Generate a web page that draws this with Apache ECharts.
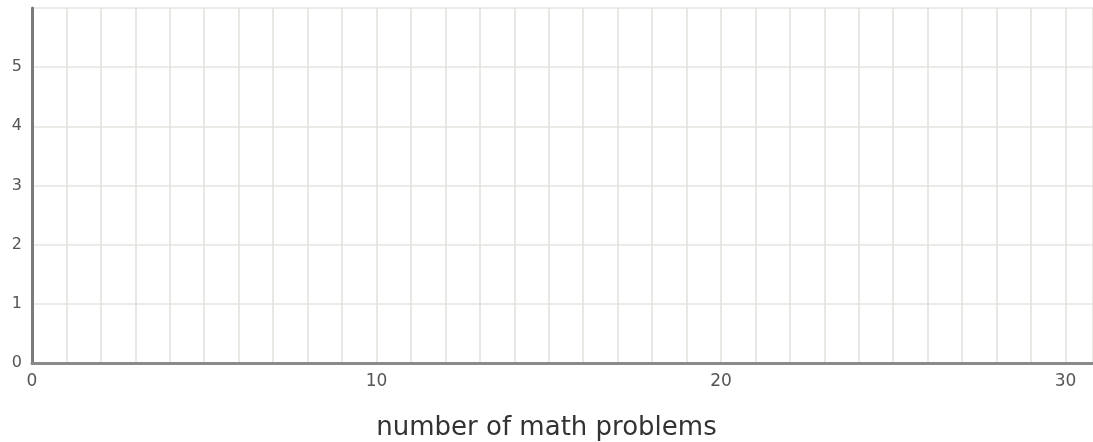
<!DOCTYPE html>
<html>
<head>
    <meta charset="UTF-8">
    <title>number of math problems</title>
    <script src="https://cdn.jsdelivr.net/npm/echarts@6/dist/echarts.min.js"></script>
</head>
<body style="margin:0;background:#fff;">
    <div id="main" style="width:1093px;height:442px;"></div>
    <script>
        // tick labels
        var xLabels = [0, 10, 20, 30];
        var yLabels = [0, 1, 2, 3, 4, 5];
        var xMax = 30.8;
        var yMax = 6;
        // no points are plotted on this grid
        var points = [];

        var myChart = echarts.init(document.getElementById('main'));
        var option = {
            animation: false,
            grid: { left: 32, right: 0, top: 8, bottom: 79, outerBoundsMode: 'none', containLabel: false },
            xAxis: {
                type: 'value',
                min: 0,
                max: xMax,
                interval: 1,
                name: 'number of math problems',
                nameLocation: 'middle',
                nameGap: 52,
                nameTextStyle: { fontFamily: 'DejaVu Sans', fontSize: 26, color: '#333', padding: [0, 32, 0, 0] },
                axisLine: { show: true, onZero: false, lineStyle: { color: '#8a8a8a', width: 3 } },
                axisTick: { show: false },
                axisLabel: {
                    fontFamily: 'DejaVu Sans', fontSize: 17, color: '#555', margin: 10,
                    showMaxLabel: false,
                    formatter: function (v) { return xLabels.indexOf(v) >= 0 ? String(v) : ''; }
                },
                splitLine: { show: true, lineStyle: { color: '#e2e0dc', width: 1.5 } }
            },
            yAxis: {
                type: 'value',
                min: 0,
                max: yMax,
                interval: 1,
                axisLine: { show: true, onZero: false, lineStyle: { color: '#7a7a7a', width: 3 } },
                axisTick: { show: false },
                axisLabel: {
                    fontFamily: 'DejaVu Sans', fontSize: 16, color: '#555', margin: 10,
                    formatter: function (v) { return yLabels.indexOf(v) >= 0 ? String(v) : ''; }
                },
                splitLine: { show: true, lineStyle: { color: '#e6e4e0', width: 1.5 } }
            },
            series: [{ type: 'scatter', data: points }]
        };
        myChart.setOption(option);
    </script>
</body>
</html>
